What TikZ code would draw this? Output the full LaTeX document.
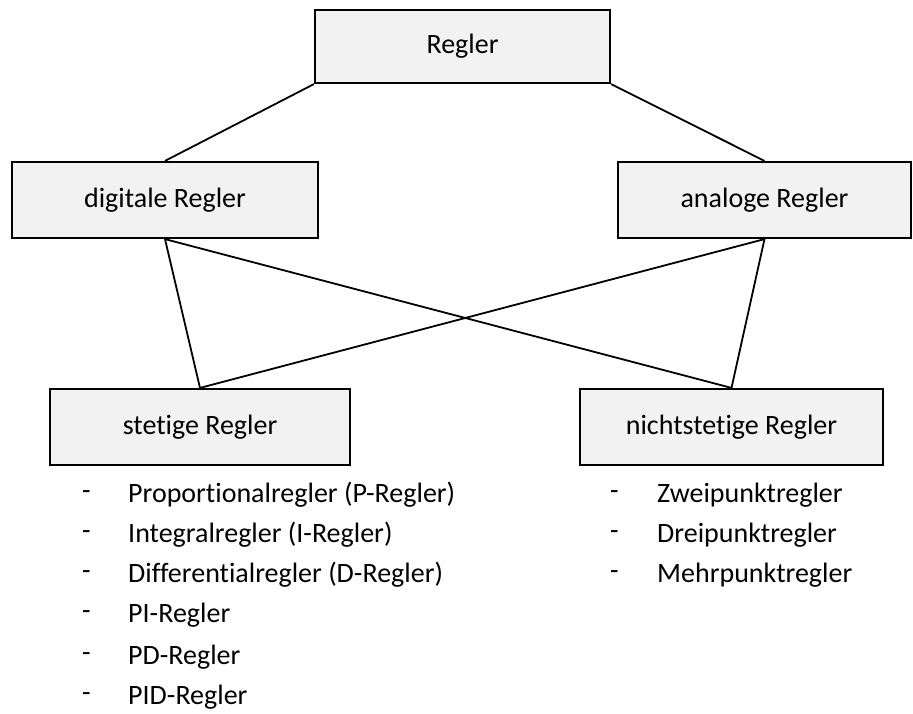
\documentclass[tikz,border=0pt]{standalone}
\usepackage{fontspec}
\setmainfont{Carlito}[Ligatures=NoCommon]
\usepackage{tikz}
\usetikzlibrary{calc}
\definecolor{boxgray}{HTML}{F2F2F2}
\tikzset{reglerbox/.style={draw=black, line width=2.2pt, fill=boxgray, inner sep=0pt, font=\fontsize{28}{34}\selectfont}}
\tikzset{itemtext/.style={anchor=west, inner sep=0pt, font=\fontsize{28}{34}\selectfont}}
\newcommand{\kasten}[6]{\node[reglerbox, minimum width=#4, minimum height=#5] (#1) at ( #2 , #3 ) {#6};}
\newcommand{\punkt}[5]{\node[itemtext] (#1) at ( #2 , #4 ) {-}; \node[itemtext] (#1t) at ( #3 , #4 ) {#5};}

\begin{document}
\begin{tikzpicture}[x=1pt, y=-1pt]
        \useasboundingbox (0,0) rectangle (913,713);
        % top
        \kasten{regler}{462.5}{46.5}{295pt}{73pt}{Regler}
        % row2
        \kasten{digital}{165}{200}{306pt}{76pt}{digitale Regler}
        \kasten{analog}{764.5}{200}{293pt}{76pt}{analoge Regler}
        % row3
        \kasten{stetig}{200}{427}{300pt}{76pt}{stetige Regler}
        \kasten{unstetig}{731.5}{427}{303pt}{76pt}{nichtstetige Regler}
        % lines
        \draw[line width=1.8pt] (regler.south west) -- (digital.north);
        \draw[line width=1.8pt] (regler.south east) -- (analog.north);
        \draw[line width=1.8pt] (digital.south) -- (stetig.north);
        \draw[line width=1.8pt] (digital.south) -- (unstetig.north);
        \draw[line width=1.8pt] (analog.south) -- (stetig.north);
        \draw[line width=1.8pt] (analog.south) -- (unstetig.north);
        % list for stetige Regler
        \punkt{s1}{82}{128}{495}{Proportionalregler (P-Regler)}
        \punkt{s2}{82}{128}{535}{Integralregler (I-Regler)}
        \punkt{s3}{82}{128}{575}{Differentialregler (D-Regler)}
        \punkt{s4}{82}{128}{615}{PI-Regler}
        \punkt{s5}{82}{128}{657}{PD-Regler}
        \punkt{s6}{82}{128}{697}{PID-Regler}
        % list for nichtstetige Regler
        \punkt{n1}{610}{657}{495}{Zweipunktregler}
        \punkt{n2}{610}{657}{535}{Dreipunktregler}
        \punkt{n3}{610}{657}{575}{Mehrpunktregler}
    \end{tikzpicture}
\end{document}
